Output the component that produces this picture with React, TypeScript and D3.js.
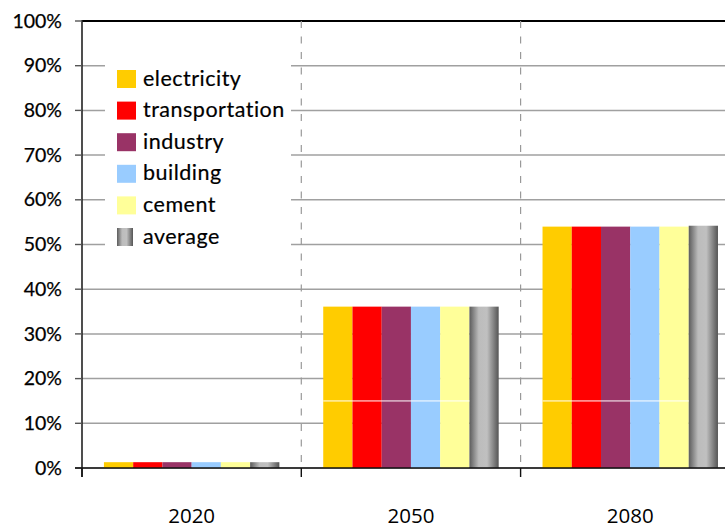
import React from "react";
import * as d3 from "d3";

const categories = ["2020", "2050", "2080"];
const seriesNames = ["electricity", "transportation", "industry", "building", "cement", "average"];
const seriesColors = ["#FFCC00", "#FF0000", "#993366", "#99CCFF", "#FFFF99", "url(#avgGrad)"];
const electricity = [1.3, 36.1, 54.0];
const transportation = [1.3, 36.1, 54.0];
const industry = [1.3, 36.1, 54.0];
const building = [1.3, 36.1, 54.0];
const cement = [1.3, 36.1, 54.0];
const average = [1.3, 36.1, 54.2];
const yTicks = [0, 10, 20, 30, 40, 50, 60, 70, 80, 90, 100];

const seriesValues = [electricity, transportation, industry, building, cement, average];

const W = 725;
const H = 528;
const left = 82;
const top = 21;
const bottom = 468;
const catWidth = 219.3;

export default function App() {
  const x = d3
    .scaleBand<string>()
    .domain(categories)
    .range([left, left + catWidth * categories.length])
    .padding(0);
  const inner = d3
    .scaleBand<string>()
    .domain(seriesNames)
    .range([0, x.bandwidth()])
    .paddingInner(0)
    .paddingOuter(0.75);
  const y = d3.scaleLinear().domain([0, 100]).range([bottom, top]);

  const labelFont = "Lato, 'Open Sans', sans-serif";

  return (
    <svg
      width={W}
      height={H}
      style={{ position: "fixed", left: 0, top: 0, background: "#fff" }}
    >
      <defs>
        <linearGradient id="avgGrad" x1="0" x2="1" y1="0" y2="0">
          <stop offset="0" stopColor="#5c5c5c" />
          <stop offset="0.32" stopColor="#bcbcbc" />
          <stop offset="0.6" stopColor="#c0c0c0" />
          <stop offset="1" stopColor="#555555" />
        </linearGradient>
      </defs>

      {/* horizontal gridlines */}
      {yTicks.map((t) => (
        <line
          key={"g" + t}
          x1={left}
          x2={W}
          y1={y(t)}
          y2={y(t)}
          stroke={t === 100 ? "#000" : "#a0a0a0"}
          strokeWidth={t === 100 ? 2 : 1.5}
        />
      ))}

      {/* dashed category separators */}
      {categories.slice(1).map((c) => (
        <line
          key={"d" + c}
          x1={x(c)!}
          x2={x(c)!}
          y1={top}
          y2={bottom}
          stroke="#999"
          strokeWidth={1.2}
          strokeDasharray="7 8.5"
        />
      ))}

      {/* bars */}
      {categories.map((c, ci) => (
        <g key={"c" + c} transform={`translate(${x(c)},0)`}>
          {seriesNames.map((s, si) => (
            <rect
              key={s}
              x={inner(s)!}
              width={inner.bandwidth()}
              y={y(seriesValues[si][ci])}
              height={bottom - y(seriesValues[si][ci])}
              fill={seriesColors[si]}
            />
          ))}
          {seriesValues[0][ci] > 15 && (
            <line
              x1={inner(seriesNames[0])!}
              x2={inner(seriesNames[4])! + inner.bandwidth()}
              y1={y(15)}
              y2={y(15)}
              stroke="#fff"
              strokeWidth={1}
            />
          )}
        </g>
      ))}

      {/* y axis */}
      <line x1={left} x2={left} y1={top - 1} y2={bottom + 9} stroke="#222" strokeWidth={1.6} />
      {yTicks.map((t) => (
        <g key={"t" + t}>
          <line x1={left - 7} x2={left} y1={y(t)} y2={y(t)} stroke="#555" strokeWidth={1.4} />
          <text
            x={62}
            y={y(t) + 6.6}
            textAnchor="end"
            fontFamily={labelFont}
            fontSize={19.5}
            fill="#000"
            stroke="#000"
            strokeWidth={0.25}
          >
            {t}%
          </text>
        </g>
      ))}

      {/* x axis */}
      <line x1={left - 7} x2={W} y1={bottom} y2={bottom} stroke="#111" strokeWidth={1.5} />
      {categories.map((c) => (
        <line
          key={"xt" + c}
          x1={x(c)!}
          x2={x(c)!}
          y1={bottom}
          y2={bottom + 9}
          stroke="#111"
          strokeWidth={1.4}
        />
      ))}
      {categories.map((c) => (
        <text
          key={"xl" + c}
          x={x(c)! + x.bandwidth() / 2}
          y={522.5}
          textAnchor="middle"
          fontFamily="'Open Sans', sans-serif"
          fontSize={20.5}
          fill="#000"
        >
          {c}
        </text>
      ))}

      {/* legend */}
      <g>
        <rect x={105} y={50} width={186} height={210} fill="#fff" />
        {seriesNames.map((s, i) => (
          <g key={"l" + s} transform={`translate(117,${70 + i * 31.6})`}>
            <rect
              x={0}
              y={0}
              width={s === "average" ? 16 : 19}
              height={18}
              fill={seriesColors[i]}
            />
            <text
              x={26}
              y={15.5}
              fontFamily={labelFont}
              fontSize={21.5}
              letterSpacing={0.5}
              fill="#000"
              stroke="#000"
              strokeWidth={0.2}
            >
              {s}
            </text>
          </g>
        ))}
      </g>
    </svg>
  );
}
